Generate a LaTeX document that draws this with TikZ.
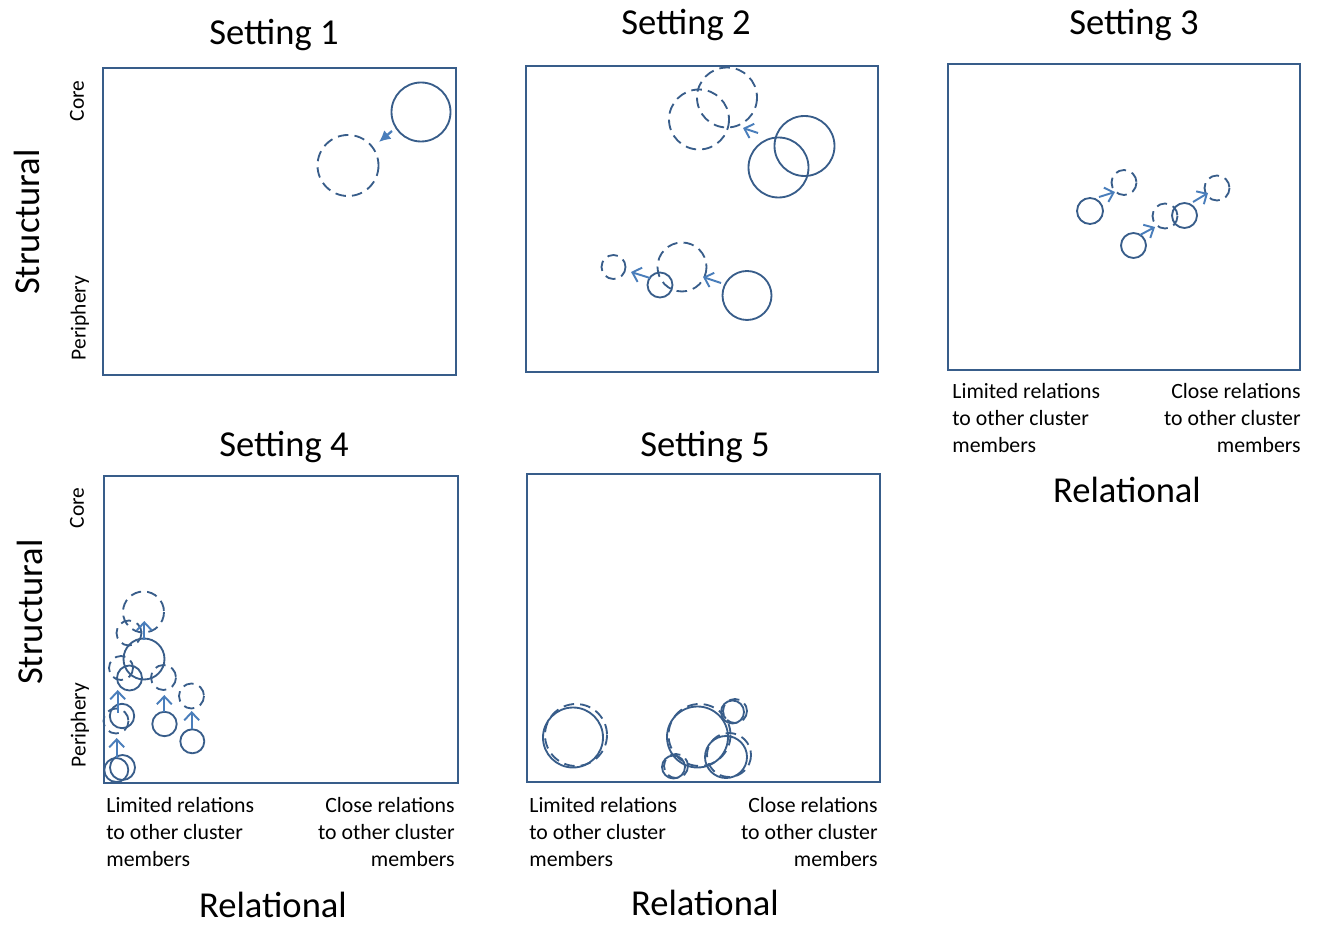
\documentclass[tikz,border=0pt]{standalone}
\usepackage{fontspec}
\setmainfont{Carlito}
\usetikzlibrary{arrows.meta}
\definecolor{frameblue}{HTML}{385D8A}
\definecolor{arrowblue}{HTML}{4A7EBB}
\tikzset{
	panel/.style={draw=frameblue, line width=1.3pt},
	sol/.style={draw=frameblue, line width=1.05pt},
	das/.style={draw=frameblue, line width=1.05pt, dash pattern=on 6pt off 3.5pt},
	move/.style={draw=arrowblue, line width=1.1pt, arrows={-{Straight Barb[length=4.5pt,width=8.5pt]}}},
	push/.style={draw=arrowblue, line width=1.3pt, arrows={-{Latex[length=6.5pt,width=6.5pt]}}},
	title/.style={font=\fontsize{20.8}{24}\selectfont, anchor=base, inner sep=0pt},
	axis/.style={font=\fontsize{20.8}{24}\selectfont, rotate=90, inner sep=0pt},
	pole/.style={font=\fontsize{12.2}{14}\selectfont, rotate=90, inner sep=0pt},
	lab/.style={font=\fontsize{12.4}{15.3}\selectfont, inner sep=0pt},
}
\begin{document}
\begin{tikzpicture}[x=0.02cm, y=-0.02cm]
	\useasboundingbox (0,0) rectangle (1322,925);
	% Setting 1
	\node [title] (t1) at (274,45) {Setting 1};
	\draw [panel] (103,68) rectangle (456,375);
	\node [axis] (s1) at (27,222) {Structural};
	\node [pole] (c1) at (77,101) {Core};
	\node [pole] (p1) at (80,318) {Periphery};
	\draw [sol] (421,112) circle (29.5);
	\draw [das] (348,165.5) circle (30.5);
	\draw [push] (392,131) -- (379,142);
	% Setting 2
	\node [title] (t2) at (686,35) {Setting 2};
	\draw [panel] (526,66) rectangle (878,372);
	\draw [das] (727,97.5) circle (30);
	\draw [das] (699,119.5) circle (30);
	\draw [sol] (804.5,146) circle (30);
	\draw [sol] (778.5,167.5) circle (30);
	\draw [move] (758,133) -- (743,128);
	\draw [das] (613.5,267) circle (12);
	\draw [sol] (660,285) circle (12.5);
	\draw [das] (682,267) circle (24.5);
	\draw [sol] (747,295.5) circle (24.5);
	\draw [move] (650,278) -- (631,272);
	\draw [move] (721,283) -- (703,277);
	% Setting 3
	\node [title] (t3) at (1134,35) {Setting 3};
	\draw [panel] (948,64) rectangle (1300,370);
	\draw [sol] (1090,211) circle (13);
	\draw [das] (1124,182.5) circle (12.5);
	\draw [move] (1099,197) -- (1115,192);
	\draw [sol] (1133.5,245.5) circle (12.5);
	\draw [das] (1165,216) circle (12.5);
	\draw [move] (1140,235) -- (1155,227);
	\draw [sol] (1184.5,215.5) circle (12.5);
	\draw [das] (1217,188) circle (12.5);
	\draw [move] (1193,202) -- (1208,193);
	\node [lab, anchor=north west, align=left] (l3) at (952,383) {Limited relations\\to other cluster\\members};
	\node [lab, anchor=north east, align=right] (r3) at (1301,383) {Close relations\\to other cluster\\members};
	\node [title] (x3) at (1127,503) {Relational};
	% Setting 4
	\node [title] (t4) at (284,457) {Setting 4};
	\draw [panel] (104,476) rectangle (458,783);
	\node [axis] (s4) at (30,612) {Structural};
	\node [pole] (c4) at (77,508) {Core};
	\node [pole] (p4) at (80,725) {Periphery};
	\draw [das] (143.5,612) circle (20.5);
	\draw [das] (129,633) circle (12.5);
	\draw [sol] (144,659) circle (20.5);
	\draw [move] (144.3,640) -- (144.3,621);
	\draw [das] (121,668) circle (12);
	\draw [sol] (129.5,678) circle (12.5);
	\draw [das] (163.5,677.5) circle (12.5);
	\draw [sol] (164.5,724) circle (12.2);
	\draw [move] (164.3,712) -- (164.3,695);
	\draw [das] (191.5,696) circle (12.5);
	\draw [sol] (192.3,741.3) circle (12);
	\draw [move] (191.7,728.5) -- (191.7,711);
	\draw [das] (116,721) circle (12.5);
	\draw [sol] (122,716) circle (12.2);
	\draw [move] (117.7,713) -- (117.7,690);
	\draw [sol] (116.3,770) circle (12);
	\draw [sol] (122.5,767.5) circle (12.5);
	\draw [move] (116.7,758) -- (116.7,738);
	\node [lab, anchor=north west, align=left] (l4) at (106,797) {Limited relations\\to other cluster\\members};
	\node [lab, anchor=north east, align=right] (r4) at (455,797) {Close relations\\to other cluster\\members};
	\node [title] (x4) at (273,917) {Relational};
	% Setting 5
	\node [title] (t5) at (705,457) {Setting 5};
	\draw [panel] (527,474) rectangle (880,782);
	\draw [sol] (573,737.5) circle (30);
	\draw [das] (576,735) circle (31);
	\draw [sol] (697.5,737) circle (30.5);
	\draw [das] (699.5,735) circle (31);
	\draw [sol] (732.5,712) circle (11.5);
	\draw [das] (735,711) circle (12);
	\draw [sol] (726,757) circle (21);
	\draw [das] (729,755) circle (22);
	\draw [sol] (673.5,767) circle (11.5);
	\draw [das] (676,766) circle (12);
	\node [lab, anchor=north west, align=left] (l5) at (529,797) {Limited relations\\to other cluster\\members};
	\node [lab, anchor=north east, align=right] (r5) at (878,797) {Close relations\\to other cluster\\members};
	\node [title] (x5) at (705,915) {Relational};
\end{tikzpicture}
\end{document}
